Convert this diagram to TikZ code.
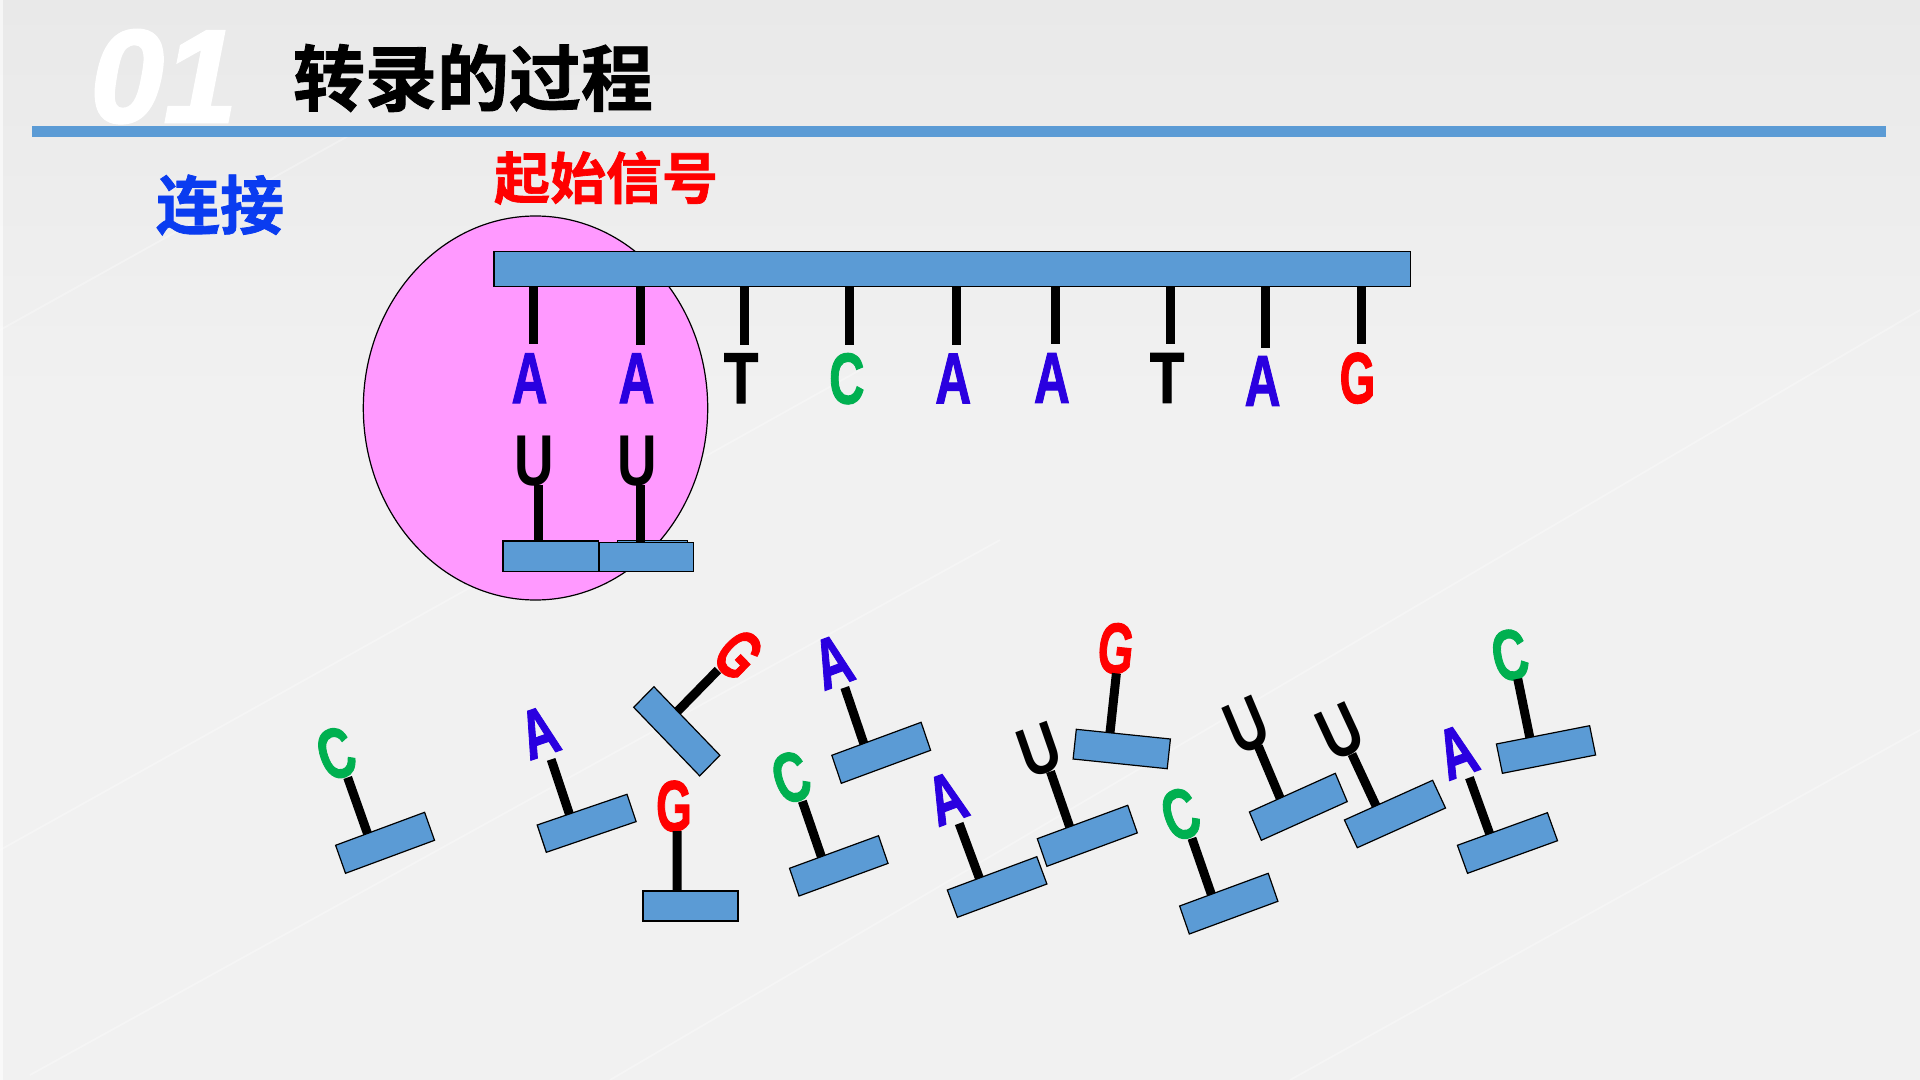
\documentclass[tikz,border=0pt]{standalone}
\usepackage{fontspec}
\usetikzlibrary{calc,shapes.geometric}
\newfontfamily\basefont{Liberation Sans Bold}
\newfontfamily\heavyfont{Liberation Sans Bold}[FakeBold=1.6]
\newfontfamily\numfont{Liberation Sans Bold Italic}[FakeBold=2]
\newfontfamily\cjkfont{Noto Sans CJK SC Bold}[FakeBold=1.2]
\definecolor{barblue}{HTML}{5B9BD5}
\definecolor{lobe}{HTML}{FF99FF}
\definecolor{adenine}{HTML}{2A00E0}
\definecolor{cytosine}{HTML}{00B050}
\definecolor{headblue}{HTML}{0A3CF0}
\definecolor{paperA}{HTML}{E9E9E9}
\definecolor{paperB}{HTML}{F1F1F1}
\tikzset{
  x=0.5pt,y=0.5pt,
  strand/.style={draw=black,line width=0.6pt,fill=barblue,rectangle,inner sep=0pt,outer sep=0pt},
  pad/.style={strand,minimum width=47.5pt,minimum height=15pt,anchor=north west},
  stem/.style={line width=4.5pt,draw=black},
  glyph/.style={inner sep=0pt,outer sep=0pt,anchor=base},
  letA/.style={xscale=.69,text=adenine,font=\heavyfont\fontsize{36pt}{36pt}\selectfont},
  letC/.style={xscale=.68,text=cytosine,font=\heavyfont\fontsize{36pt}{36pt}\selectfont},
  letG/.style={xscale=.64,text=red,font=\heavyfont\fontsize{36pt}{36pt}\selectfont},
  letU/.style={xscale=.76,text=black,font=\basefont\fontsize{36pt}{36pt}\selectfont},
  letT/.style={xscale=.78,text=black,font=\heavyfont\fontsize{36pt}{36pt}\selectfont},
  head/.style={inner sep=0pt,outer sep=0pt,anchor=west}
}
% Letter position and stem length of the next free nucleotide, in its own frame.
\newcommand{\placing}[3]{\def\letx{#1}\def\lety{#2}\def\tipy{#3}}
\placing{31}{60}{60}
% A free nucleotide: pad, stem and letter, sheared so the pad has the given
% top-left, top-right and bottom-left corners (pixel positions, y downward).
\newcommand{\nuc}[8]{%
  \pgfmathsetmacro\ma{(#4-#2)/95}%
  \pgfmathsetmacro\mb{-(#5-#3)/95}%
  \pgfmathsetmacro\mc{-(#6-#2)/30}%
  \pgfmathsetmacro\md{(#7-#3)/30}%
  \begin{scope}[cm={\ma,\mb,\mc,\md,(#2,-#3)}]
    \node[pad,transform shape] (#1) at (0,0) {};
    \node[glyph,let#8,transform shape] (#1-l) at (\letx,\lety) {#8};
    \coordinate (#1-t) at (34,\tipy);
    \draw[stem] ($(#1.north west)!.358!(#1.north east)$) -- (#1-t);
  \end{scope}%
  \placing{31}{60}{60}}
% A template base on the long strand: stem at x down to y, letter centred at lx with baseline ly.
\newcommand{\tmpl}[6]{%
  \coordinate (#1-t) at (#2,-#3);
  \node[glyph,let#6] (#1) at (#4,-#5) {#6};
  \draw[stem] (#1-t |- bar.south) -- (#1-t);}
\begin{document}
\begin{tikzpicture}
\useasboundingbox (0,0) rectangle (1920,-1080);
% paper
\shade[top color=paperA,bottom color=paperB] (0,0) rectangle (1920,-400);
\fill[paperB] (0,-400) rectangle (1920,-1080);
\fill[white,opacity=.6] (0,0) rectangle (2.5,-1080);
\foreach \ax/\ay/\bx/\by in {0/330/350/135, 0/850/860/370, 30/1075/1000/540, 610/1080/1920/310, 1290/1080/1920/730}
  \draw[white,opacity=.3,line width=.9pt] (\ax,-\ay) -- (\bx,-\by);

% header
\node[inner sep=0pt,anchor=base west,text=white,font=\numfont\fontsize{66pt}{66pt}\selectfont] (num) at (90,-122) {01};
\node[head,font=\cjkfont\fontsize{36pt}{36pt}\selectfont] (title) at (293,-78) {转录的过程};
\node[rectangle,fill=barblue,inner sep=0pt,anchor=north west,minimum width=926.8pt,minimum height=5.7pt] (rule) at (32,-125.7) {};
\node[head,text=headblue,font=\cjkfont\fontsize{32pt}{32pt}\selectfont] (join) at (156,-205) {连接};
\node[head,text=red,font=\cjkfont\fontsize{28pt}{28pt}\selectfont] (signal) at (494,-178) {起始信号};

% polymerase lobe and template strand
\node[ellipse,draw=black,line width=0.6pt,fill=lobe,inner sep=0pt,minimum width=172.2pt,minimum height=192pt] (lobe) at (535.5,-408) {};
\node[strand,anchor=north west,minimum width=458.3pt,minimum height=17.5pt] (bar) at (494,-251.3) {};

\tmpl{b1}{533.3}{344}{529.5}{403}{A}
\tmpl{b2}{640}{345}{636.5}{403}{A}
\tmpl{b3}{744}{345}{741}{403}{T}
\tmpl{b4}{849.5}{345.3}{846.8}{403.5}{C}
\tmpl{b5}{956.2}{345.3}{953.2}{403.3}{A}
\tmpl{b6}{1055.7}{344.5}{1051.9}{402.7}{A}
\tmpl{b7}{1170.5}{344.5}{1167}{402.7}{T}
\tmpl{b8}{1265.5}{348.3}{1262.6}{405.7}{A}
\tmpl{b9}{1361.5}{344.5}{1357.5}{403}{G}

% two nucleotides paired at the start signal
\node[strand,anchor=north west,minimum width=35.2pt,minimum height=10pt] (hid) at (617.3,-540.3) {};
\node[strand,anchor=north west,minimum width=47.8pt,minimum height=15.3pt] (p1) at (503,-541) {};
\node[strand,anchor=north west,minimum width=47pt,minimum height=14.7pt] (p2) at (599.3,-542.3) {};
\node[glyph,letU] (u1) at (534.5,-485) {U};
\node[glyph,letU] (u2) at (637,-485) {U};
\coordinate (u1-t) at (538,-485);
\coordinate (u2-t) at (640,-485);
\draw[stem] (u1-t) -- (u1-t |- p1.north);
\draw[stem] (u2-t) -- (u2-t |- p2.north);

% free nucleotides
\placing{31}{62}{60}\nuc{n1}{335.6}{845.3}{424.6}{812.3}{345.5}{873.3}{C}
\placing{31}{66}{60}\nuc{n2}{537.2}{825}{627}{794.3}{546.3}{852.3}{A}
\placing{38}{62}{60}\nuc{n3}{653.9}{686.7}{719.9}{755.3}{633.7}{707.3}{G}
\nuc{n4}{643}{891}{738}{891}{643}{921}{G}
\placing{31}{62}{60}\nuc{n5}{789.5}{868.3}{878.5}{835.7}{799}{896}{C}
\placing{31}{64}{60}\nuc{n6}{831.8}{755.3}{921.1}{722.3}{841.3}{783.3}{A}
\placing{31}{64}{60}\nuc{n7}{947.3}{890}{1036.8}{856.7}{957.4}{917.3}{A}
\nuc{n8}{1037.3}{838.7}{1127.7}{805.3}{1046.9}{866.3}{U}
\nuc{n9}{1076.3}{729.3}{1170.4}{739}{1073.1}{759}{G}
\placing{31}{62}{60}\nuc{n10}{1179.6}{906}{1268.2}{873.3}{1189.3}{934}{C}
\placing{31}{54}{55}\nuc{n11}{1249.4}{812}{1335.3}{773.3}{1261.3}{840.3}{U}
\placing{33}{56}{56}\nuc{n12}{1344.4}{820}{1432.6}{780.3}{1357.3}{847.7}{U}
\placing{31}{64}{60}\nuc{n13}{1457.4}{845.3}{1547.4}{812.7}{1467.5}{873.3}{A}
\nuc{n14}{1496.4}{744}{1589.6}{725.7}{1502.4}{773.3}{C}
\end{tikzpicture}
\end{document}
